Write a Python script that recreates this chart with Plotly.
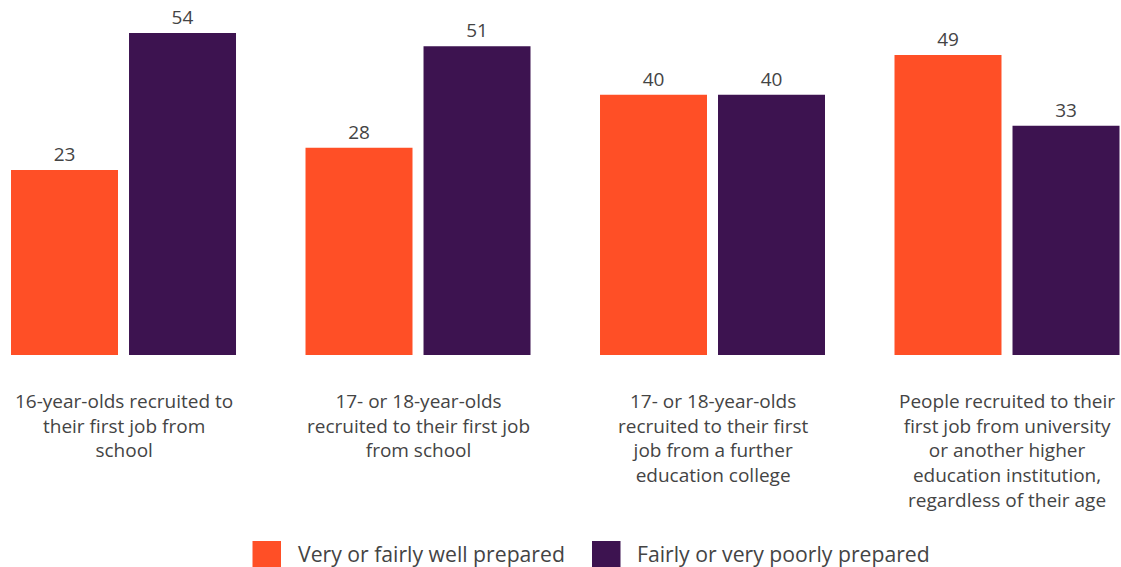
import plotly.graph_objects as go

# Survey data: share of employers rating recruits' preparedness (%)
categories = [
    "16-year-olds recruited to<br>their first job from<br>school",
    "17- or 18-year-olds<br>recruited to their first job<br>from school",
    "17- or 18-year-olds<br>recruited to their first<br>job from a further<br>education college",
    "People recruited to their<br>first job from university<br>or another higher<br>education institution,<br>regardless of their age",
]
series_names = ["Very or fairly well prepared", "Fairly or very poorly prepared"]
well_prepared = [23, 28, 40, 49]
poorly_prepared = [54, 51, 40, 33]

colors = ["#FF4F26", "#3D1350"]
text_color = "#444444"
font_family = "'Open Sans', Lato, sans-serif"

# value axis is cut below zero; bars rise from the axis floor
AXIS_FLOOR = -18.87
AXIS_TOP = 61.46

W, H = 1121, 567
plot_h = 355

x_pos = list(range(len(categories)))
bar_w = 0.3633
offsets = [-0.382, 0.0187]

fig = go.Figure()
for name, vals, col, off in zip(series_names, [well_prepared, poorly_prepared], colors, offsets):
    fig.add_trace(go.Bar(
        x=x_pos,
        y=[v - AXIS_FLOOR for v in vals],
        base=AXIS_FLOOR,
        width=bar_w,
        offset=off,
        name=name,
        marker=dict(color=col, line=dict(width=0)),
        text=[str(v) for v in vals],
        textposition="outside",
        textfont=dict(family=font_family, size=19, color=text_color),
        cliponaxis=False,
        hoverinfo="skip",
        showlegend=False,
    ))

# category labels beneath each group
for xp, label in zip(x_pos, categories):
    fig.add_annotation(
        x=xp, xref="x", y=-(386 - plot_h) / plot_h, yref="paper",
        text=label, showarrow=False, xanchor="center", yanchor="top",
        align="center",
        font=dict(family=font_family, size=19, color=text_color),
    )

# legend: colour swatch + series name
legend_items = [(252.5, 296), (592, 635)]
for (sx, tx), name, col in zip(legend_items, series_names, colors):
    fig.add_shape(
        type="rect", xref="paper", yref="paper",
        x0=sx / W, x1=(sx + 28.5) / W,
        y0=-(541 - plot_h) / plot_h, y1=-(569.5 - plot_h) / plot_h,
        fillcolor=col, line=dict(width=0),
    )
    fig.add_annotation(
        x=tx / W, xref="paper", y=-(553 - plot_h) / plot_h, yref="paper",
        text=name, showarrow=False, xanchor="left", yanchor="middle",
        font=dict(family=font_family, size=21.2, color=text_color),
    )

fig.update_layout(
    width=W, height=H,
    margin=dict(l=0, r=0, t=0, b=H - plot_h),
    paper_bgcolor="white", plot_bgcolor="white",
    barmode="overlay",
    xaxis=dict(range=[-0.4194, 3.3871], visible=False, fixedrange=True),
    yaxis=dict(range=[AXIS_FLOOR, AXIS_TOP], visible=False, fixedrange=True),
    uniformtext=dict(mode=False),
)

fig.write_html("out.html")
